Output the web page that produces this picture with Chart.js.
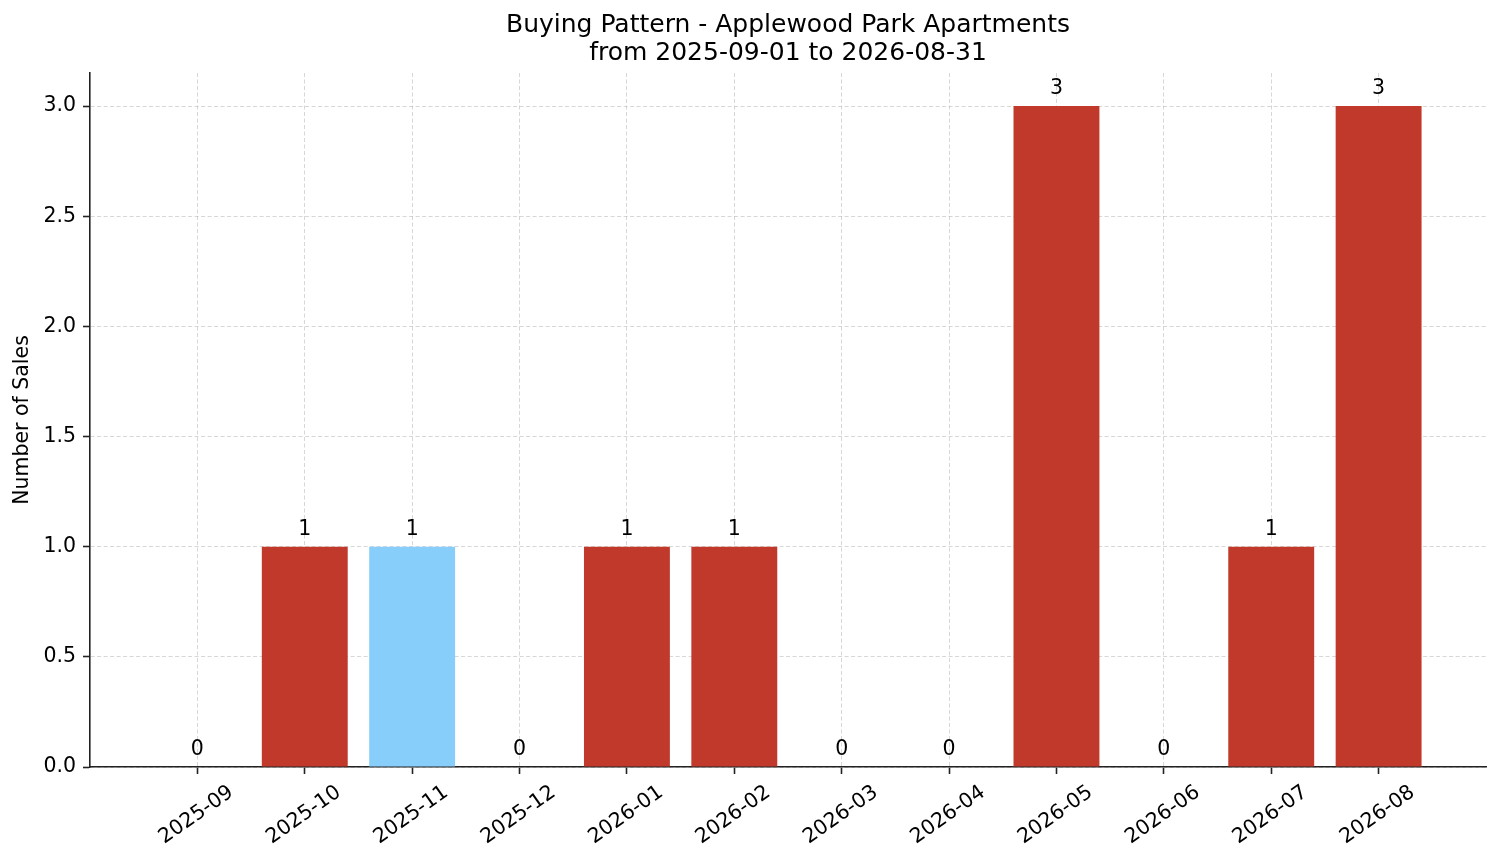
<!DOCTYPE html>
<html>
<head>
<meta charset="utf-8">
<title>Buying Pattern - Applewood Park Apartments</title>
<script src="https://cdn.jsdelivr.net/npm/chart.js@4.4.1/dist/chart.umd.min.js"></script>
<style>
  html, body { margin: 0; padding: 0; background: #fff; }
  #wrap { width: 1501px; height: 863px; }
</style>
</head>
<body>
<div id="wrap"><canvas id="myChart" width="1501" height="863"></canvas></div>
<script>
// data
const months = ['2025-09', '2025-10', '2025-11', '2025-12', '2026-01', '2026-02',
                '2026-03', '2026-04', '2026-05', '2026-06', '2026-07', '2026-08'];
const sales = [0, 1, 1, 0, 1, 1, 0, 0, 3, 0, 1, 3];
const yTicks = [0, 0.5, 1, 1.5, 2, 2.5, 3];
const highlightMonth = '2025-11';
const chartTitle = ['Buying Pattern - Applewood Park Apartments', 'from 2025-09-01 to 2026-08-31'];
const yTitle = 'Number of Sales';

const FONT = 'DejaVu Sans';
const TEXT = '#000';
const AXIS = '#222';
const GRID = 'rgba(176,176,176,0.5)';
const RED = '#C0392B';
const BLUE = '#87CEFA';

const barColors = months.map(m => m === highlightMonth ? BLUE : RED);

// rotated month labels, centred under each tick like the original
const xLabels = {
    id: 'xLabels',
    afterDraw(chart) {
        const ctx = chart.ctx;
        const xs = chart.scales.x;
        ctx.save();
        ctx.font = '20.5px "' + FONT + '"';
        ctx.fillStyle = TEXT;
        ctx.textAlign = 'center';
        ctx.textBaseline = 'middle';
        months.forEach((m, i) => {
            ctx.save();
            ctx.translate(xs.getPixelForValue(i) - 1, chart.chartArea.bottom + 48);
            ctx.rotate(-35 * Math.PI / 180);
            ctx.fillText(m, 0, 0);
            ctx.restore();
        });
        ctx.restore();
    }
};

// count over every bar
const barValues = {
    id: 'barValues',
    afterDraw(chart) {
        const ctx = chart.ctx;
        const meta = chart.getDatasetMeta(0);
        ctx.save();
        ctx.font = '20.5px "' + FONT + '"';
        ctx.fillStyle = TEXT;
        ctx.textAlign = 'center';
        ctx.textBaseline = 'alphabetic';
        meta.data.forEach((bar, i) => {
            ctx.fillText(String(sales[i]), bar.x, bar.y - 12);
        });
        ctx.restore();
    }
};

const config = {
    type: 'bar',
    data: {
        datasets: [{
            data: sales.map((v, i) => ({ x: i, y: v })),
            backgroundColor: barColors,
            borderWidth: 0,
            categoryPercentage: 1,
            barPercentage: 0.8
        }]
    },
    options: {
        responsive: false,
        animation: false,
        layout: { padding: { left: 0, right: 15, top: 0, bottom: 0 } },
        plugins: {
            legend: { display: false },
            tooltip: { enabled: false },
            title: {
                display: true,
                fullSize: false,
                text: chartTitle,
                color: TEXT,
                font: { family: FONT, size: 25, weight: 'normal', lineHeight: 1.14 },
                padding: { top: 11, bottom: 5 }
            }
        },
        scales: {
            x: {
                type: 'linear',
                min: -1,
                max: 12,
                offset: false,
                z: 1,
                afterBuildTicks: s => { s.ticks = months.map((m, i) => ({ value: i })); },
                afterFit: s => { s.height = 96; },
                ticks: { display: false },
                grid: { offset: false, color: GRID, lineWidth: 1, tickColor: AXIS, tickLength: 7, tickWidth: 1.6 },
                border: { color: AXIS, width: 1.6, dash: [4, 2.5] }
            },
            y: {
                min: 0,
                max: 3.15,
                z: 1,
                afterBuildTicks: s => { s.ticks = yTicks.map(v => ({ value: v })); },
                afterFit: s => { s.width = 90; },
                ticks: {
                    color: TEXT,
                    padding: 7,
                    font: { family: FONT, size: 20.5 },
                    callback: v => v.toFixed(1)
                },
                grid: { color: GRID, lineWidth: 1, tickColor: AXIS, tickLength: 7, tickWidth: 1.6 },
                border: { color: AXIS, width: 1.6, dash: [4, 2.5] },
                title: {
                    display: true,
                    text: yTitle,
                    color: TEXT,
                    font: { family: FONT, size: 20.5 },
                    padding: { top: 10, bottom: 0 }
                }
            }
        }
    },
    plugins: [xLabels, barValues]
};

new Chart(document.getElementById('myChart'), config);
</script>
</body>
</html>
